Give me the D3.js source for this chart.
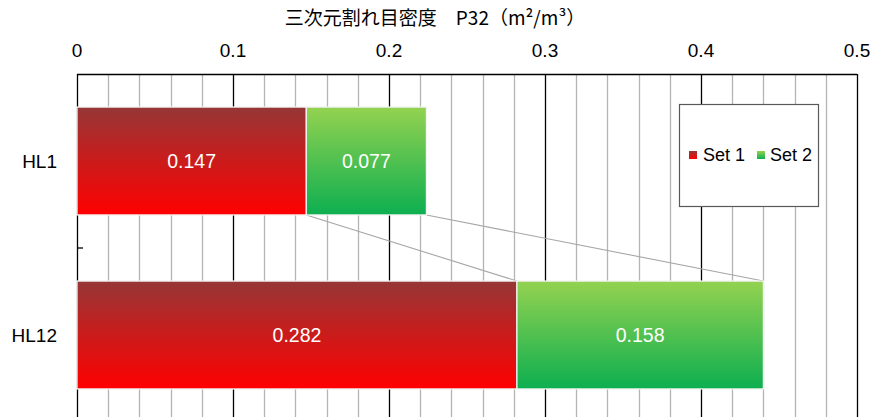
<!DOCTYPE html>
<html>
<head>
<meta charset="utf-8">
<script src="https://cdn.jsdelivr.net/npm/d3@7"></script>
<style>
  html, body { margin: 0; padding: 0; background: #fff; }
  svg { display: block; font-family: "Liberation Sans", Arial, "Noto Sans CJK JP", sans-serif; }
</style>
</head>
<body>
<svg id="chart" width="874" height="417"></svg>
<script>
// Stacked horizontal bars: fracture density P32 per borehole
const categories = ["HL1", "HL12"];
const seriesNames = ["Set 1", "Set 2"];
const set1Values = [0.147, 0.282];
const set2Values = [0.077, 0.158];
const tickValues = [0, 0.1, 0.2, 0.3, 0.4, 0.5];
const tickLabels = ["0", "0.1", "0.2", "0.3", "0.4", "0.5"];
const titleText = "三次元割れ目密度　P32（m²/m³）";

const svg = d3.select("#chart");
const plotLeft = 77, plotRight = 857, plotTop = 74, plotBottom = 422;

const x = d3.scaleLinear().domain([0, 0.5]).range([plotLeft, plotRight]);
const y = d3.scaleBand().domain(categories).range([plotTop, plotBottom]).padding(0);
const barH = y.bandwidth() * 0.62;
const barY = c => y(c) + (y.bandwidth() - barH) / 2;

// gradients
const defs = svg.append("defs");
const grads = [
  { id: "g1", top: "#963636", bottom: "#ff0000" },
  { id: "g2", top: "#94d250", bottom: "#0daf50" }
];
grads.forEach(g => {
  const lg = defs.append("linearGradient").attr("id", g.id)
    .attr("x1", 0).attr("y1", 0).attr("x2", 0).attr("y2", 1);
  lg.append("stop").attr("offset", "0%").attr("stop-color", g.top);
  lg.append("stop").attr("offset", "100%").attr("stop-color", g.bottom);
});

// vertical gridlines every 0.02
const minor = d3.range(1, 26).map(i => i * 0.02);
svg.append("g").selectAll("line").data(minor).join("line")
  .attr("x1", d => Math.round(x(d)) + 0.5).attr("x2", d => Math.round(x(d)) + 0.5)
  .attr("y1", plotTop).attr("y2", plotBottom)
  .attr("stroke", (d, i) => ((i + 1) % 5 === 0) ? "#000" : "#b4b4b4")
  .attr("stroke-width", 1.3);

// top axis line and labels
svg.append("line").attr("x1", plotLeft).attr("x2", plotRight).attr("y1", plotTop + 0.5).attr("y2", plotTop + 0.5)
  .attr("stroke", "#000").attr("stroke-width", 1.3);
svg.append("g").selectAll("text").data(tickValues).join("text")
  .attr("x", d => x(d)).attr("y", 57)
  .attr("text-anchor", "middle").attr("font-size", 19).attr("fill", "#000")
  .text((d, i) => tickLabels[i]);

// left axis line with inner category-boundary tick
svg.append("line").attr("x1", plotLeft + 0.5).attr("x2", plotLeft + 0.5).attr("y1", plotTop).attr("y2", plotBottom)
  .attr("stroke", "#000").attr("stroke-width", 1.3);
const boundaries = categories.slice(1).map(c => y(c));
svg.append("g").selectAll("line").data(boundaries).join("line")
  .attr("x1", plotLeft).attr("x2", plotLeft + 6).attr("y1", d => d).attr("y2", d => d)
  .attr("stroke", "#000").attr("stroke-width", 1.3);

svg.append("g").selectAll("text").data(categories).join("text")
  .attr("x", 57).attr("y", d => y(d) + y.bandwidth() / 2)
  .attr("dy", "0.35em").attr("text-anchor", "end")
  .attr("font-size", 19).attr("fill", "#000").text(d => d);

// series lines connecting stacked ends
const rows = categories.map((c, i) => ({ c, s1: set1Values[i], s2: set2Values[i] }));
for (let i = 0; i < rows.length - 1; i++) {
  const a = rows[i], b = rows[i + 1];
  [[a.s1, b.s1], [a.s1 + a.s2, b.s1 + b.s2]].forEach(([va, vb]) => {
    svg.append("line")
      .attr("x1", x(va)).attr("y1", barY(a.c) + barH)
      .attr("x2", x(vb)).attr("y2", barY(b.c))
      .attr("stroke", "#a6a6a6").attr("stroke-width", 1.1);
  });
}

// bars
const g = svg.append("g");
rows.forEach(r => {
  const segs = [
    { v0: 0, v1: r.s1, fill: "url(#g1)", val: r.s1 },
    { v0: r.s1, v1: r.s1 + r.s2, fill: "url(#g2)", val: r.s2 }
  ];
  segs.forEach(s => {
    g.append("rect")
      .attr("x", x(s.v0)).attr("y", barY(r.c))
      .attr("width", x(s.v1) - x(s.v0)).attr("height", barH)
      .attr("fill", s.fill).attr("stroke", "#f2f2f2").attr("stroke-width", 1.3);
    g.append("text")
      .attr("x", (x(s.v0) + x(s.v1)) / 2).attr("y", barY(r.c) + barH / 2)
      .attr("dy", "0.35em").attr("text-anchor", "middle")
      .attr("font-size", 19.5).attr("fill", "#fff").text(d3.format(".3f")(s.val));
  });
});

// legend
const lg = svg.append("g");
lg.append("rect").attr("x", 679.5).attr("y", 104.5).attr("width", 139).attr("height", 102)
  .attr("fill", "#fff").attr("stroke", "#595959").attr("stroke-width", 1.2);
const legendItems = [
  { name: seriesNames[0], fill: "url(#g1)", mx: 689, tx: 703 },
  { name: seriesNames[1], fill: "url(#g2)", mx: 757, tx: 770 }
];
legendItems.forEach(it => {
  lg.append("rect").attr("x", it.mx).attr("y", 151).attr("width", 8).attr("height", 8).attr("fill", it.fill);
  lg.append("text").attr("x", it.tx).attr("y", 161).attr("font-size", 18).attr("fill", "#000").text(it.name);
});

// title
svg.append("text").attr("x", 435).attr("y", 25).attr("text-anchor", "middle")
  .attr("font-size", 19).attr("fill", "#000")
  .style("font-family", "'Noto Sans CJK JP', 'Liberation Sans', sans-serif")
  .text(titleText);
</script>
</body>
</html>
